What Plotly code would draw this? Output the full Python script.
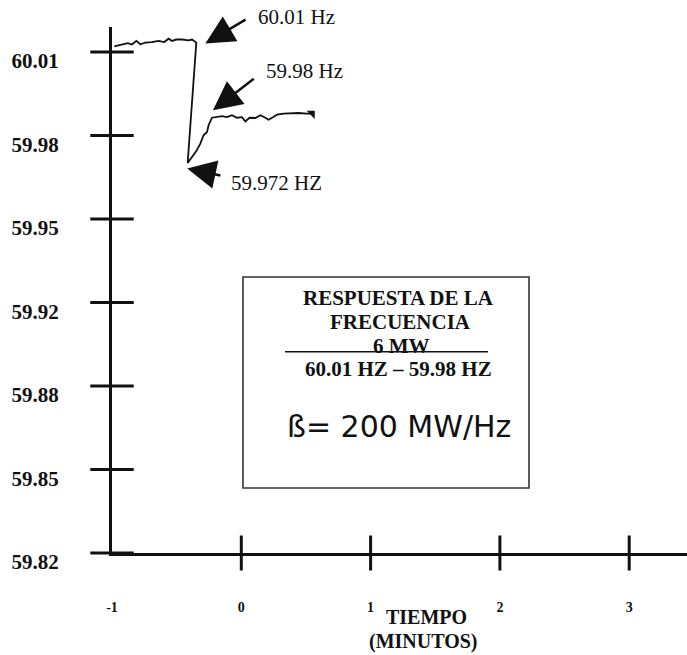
import numpy as np
import plotly.graph_objects as go

# ---------------- data ----------------
TICK_HZ = [59.82, 59.85, 59.88, 59.92, 59.95, 59.98, 60.01]
TICK_HZ_LABELS = ["59.82", "59.85", "59.88", "59.92", "59.95", "59.98", "60.01"]
TIME_TICKS = [-1, 0, 1, 2, 3]
TIME_LABELS = ["-1", "0", "1", "2", "3"]

TIME_MIN = [-0.982, -0.910, -0.879, -0.845, -0.812, -0.781, -0.742, -0.691, -0.640,
            -0.596, -0.562, -0.536, -0.503, -0.459, -0.408, -0.381, -0.348,
            -0.415, -0.381, -0.348, -0.317, -0.292, -0.265, -0.253, -0.227,
            -0.188, -0.149, -0.111, -0.072, -0.033, 0.005, 0.031, 0.064, 0.108,
            0.147, 0.186, 0.211, 0.245, 0.276, 0.327, 0.379, 0.443, 0.508, 0.547]
FREQ_HZ = [60.0120, 60.0128, 60.0132, 60.0127, 60.0140, 60.0128, 60.0134, 60.0136, 60.0140,
           60.0136, 60.0148, 60.0140, 60.0145, 60.0145, 60.0142, 60.0145, 60.0134,
           59.9701, 59.9723, 59.9744, 59.9771, 59.9801, 59.9813, 59.9837, 59.9864,
           59.9866, 59.9870, 59.9866, 59.9873, 59.9864, 59.9866, 59.9851, 59.9864, 59.9863,
           59.9873, 59.9864, 59.9857, 59.9866, 59.9875, 59.9879, 59.9881, 59.9881, 59.9879, 59.9879]


def hz_to_pos(hz):
    """Map a frequency onto the chart's evenly spaced tick positions."""
    hz = np.asarray(hz, dtype=float)
    idx = np.arange(len(TICK_HZ), dtype=float)
    pos = np.interp(hz, TICK_HZ, idx)
    hi = hz > TICK_HZ[-1]
    pos[hi] = idx[-1] + (hz[hi] - TICK_HZ[-1]) / (TICK_HZ[-1] - TICK_HZ[-2])
    return pos


tick_pos = np.arange(len(TICK_HZ))
line_pos = hz_to_pos(FREQ_HZ)

SERIF = "Liberation Serif, Times New Roman, serif"

fig = go.Figure()

# frequency trace
fig.add_trace(go.Scatter(x=TIME_MIN, y=line_pos, mode="lines",
                         line=dict(color="#111111", width=1.8), hoverinfo="skip"))
# end-of-trace arrow mark
fig.add_trace(go.Scatter(x=[TIME_MIN[-1]], y=[line_pos[-1]], mode="markers",
                         marker=dict(symbol="triangle-ne", size=9, color="#111111"),
                         hoverinfo="skip"))
# crossing tick marks on the time axis
fig.add_trace(go.Scatter(x=TIME_TICKS[1:], y=[0] * (len(TIME_TICKS) - 1), mode="markers",
                         marker=dict(symbol="line-ns", size=25,
                                     line=dict(color="#111111", width=3)),
                         cliponaxis=False, hoverinfo="skip"))
# crossing tick marks on the frequency axis
fig.add_trace(go.Scatter(x=[TIME_TICKS[0]] * len(TICK_HZ), y=tick_pos, mode="markers",
                         marker=dict(symbol="line-ew", size=31,
                                     line=dict(color="#111111", width=3)),
                         cliponaxis=False, hoverinfo="skip"))

annotations = []
# arrows pointing at the trace
for (t, hz, ax, ay) in [(-0.278, 60.0131, 41.7, -24.7),
                        (-0.219, 59.9891, 42.3, -32.7),
                        (-0.418, 59.9682, 34.7, 7.5)]:
    annotations.append(dict(x=t, y=float(hz_to_pos([hz])[0]), xref="x", yref="y",
                            text="", showarrow=True, arrowhead=2, arrowsize=2.3,
                            arrowwidth=2.5, arrowcolor="#111111", standoff=0,
                            ax=ax, ay=ay))

def txt(s, x, y, size, family=SERIF, bold=False):
    annotations.append(dict(text=f"<b>{s}</b>" if bold else s, x=x, y=y,
                            xref="paper", yref="paper", showarrow=False,
                            xanchor="center", yanchor="middle",
                            font=dict(family=family, size=size, color="#111111")))

txt("60.01 Hz", 0.320, 1.019, 21)
txt("59.98 Hz", 0.334, 0.917, 21)
txt("59.972 HZ", 0.2864, 0.704, 21)
txt("RESPUESTA DE LA", 0.4991, 0.4842, 21, bold=True)
txt("FRECUENCIA", 0.5009, 0.4397, 21, bold=True)
txt("6 MW", 0.5043, 0.3935, 21, bold=True)
txt("60.01 HZ – 59.98 HZ", 0.4991, 0.3492, 21, bold=True)
txt("ß= 200 MW/Hz", 0.4991, 0.2401, 30, family="DejaVu Sans, Verdana, sans-serif")
txt("TIEMPO", 0.5461, -0.1217, 20, bold=True)
txt("(MINUTOS)", 0.5426, -0.1692, 20, bold=True)

shapes = [
    dict(type="rect", xref="paper", yref="paper", x0=0.2278, x1=0.7252, y0=0.1236, y1=0.5247,
         line=dict(color="#333333", width=1.6)),
    dict(type="line", xref="paper", yref="paper", x0=0.3009, x1=0.6539, y0=0.3827, y1=0.3827,
         line=dict(color="#111111", width=1.4)),
]

fig.update_layout(
    width=687, height=655,
    margin=dict(l=112, r=0, t=27, b=102),
    paper_bgcolor="white", plot_bgcolor="white",
    showlegend=False,
    annotations=annotations, shapes=shapes,
    xaxis=dict(range=[-1, 3.447], tickvals=TIME_TICKS, ticktext=TIME_LABELS,
               ticks="", showgrid=False, zeroline=False, automargin=False,
               showline=True, linecolor="#111111", linewidth=3,
               tickfont=dict(family=SERIF, size=14, color="#111111", weight="bold"),
               ticklabelstandoff=39, fixedrange=True),
    yaxis=dict(range=[0, 6.30], tickvals=list(tick_pos), ticktext=TICK_HZ_LABELS,
               ticks="", showgrid=False, zeroline=False, automargin=False,
               showline=True, linecolor="#111111", linewidth=3,
               tickfont=dict(family=SERIF, size=21, color="#111111", weight="bold"),
               ticklabelstandoff=46, ticklabelshift=9, fixedrange=True),
)

fig.write_html("out.html", config={"displayModeBar": False},
               post_script="document.body.style.margin='0';")
